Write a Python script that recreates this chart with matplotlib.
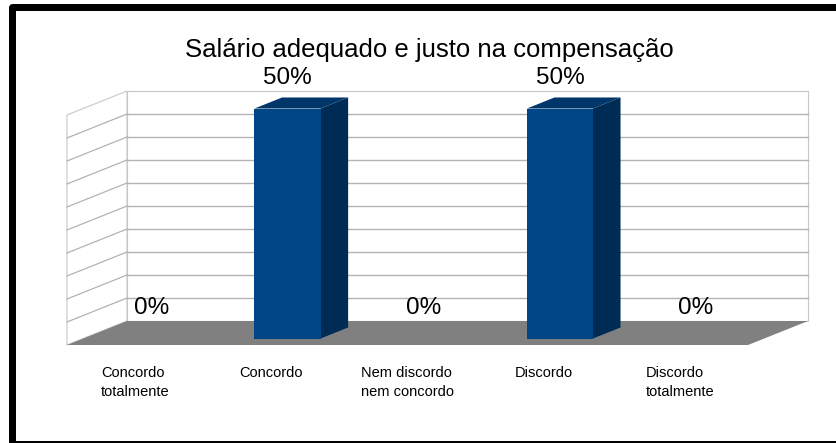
import matplotlib
matplotlib.use("Agg")
import matplotlib.pyplot as plt
from matplotlib.patches import Polygon, Rectangle
from matplotlib.transforms import Affine2D, IdentityTransform

# ---------------- data ----------------
categories = ["Concordo\ntotalmente", "Concordo", "Nem discordo\nnem concordo",
              "Discordo", "Discordo\ntotalmente"]
values = [0.0, 0.5, 0.0, 0.5, 0.0]
value_labels = ["0%", "50%", "0%", "50%", "0%"]
title = "Salário adequado e justo na compensação"
y_max = 0.5
y_step = 0.05

# ---------------- style / layout ----------------
plt.rcParams['font.family'] = ['Liberation Sans', 'DejaVu Sans']
W, H = 837, 443
fig = plt.figure(figsize=(W / 100, H / 100), dpi=100)
fig.patch.set_facecolor('white')
ax = fig.add_axes([127 / W, (H - 321) / H, 681 / W, 230 / H])
n = len(categories)
ax.set_xlim(-0.5, n - 0.5)
ax.set_ylim(0, y_max)
ax.axis('off')

DX, DY = -60.0, -24.0          # pixel shift at full depth (front)
D_BACK, D_FRONT = 0.27, 0.73   # bar depth range
BW = 0.485                     # bar width in category units

FRONT = '#004586'
SIDE = '#002b55'
TOP = '#00366a'
GRID = '#b3b3b3'
WALL_EDGE = '#c8c8c8'
FLOOR = '#808080'


def depth(d):
    return ax.transData + Affine2D().translate(DX * d, DY * d)


def proj(x, y, d):
    return depth(d).transform((x, y))


def poly(pts, fc, ec='none', lw=0, z=1):
    p = Polygon(pts, closed=True, facecolor=fc, edgecolor=ec, linewidth=lw,
                transform=IdentityTransform(), clip_on=False, zorder=z)
    ax.add_patch(p)
    return p


x0, x1 = -0.5, n - 0.5
grid_vals = [k * y_step for k in range(int(round(y_max / y_step)) + 1)]

# back wall
poly([proj(x0, 0, 0), proj(x1, 0, 0), proj(x1, y_max, 0), proj(x0, y_max, 0)],
     'white', WALL_EDGE, 0.8, z=0.5)
# left wall
poly([proj(x0, 0, 0), proj(x0, y_max, 0), proj(x0, y_max, 1), proj(x0, 0, 1)],
     'white', WALL_EDGE, 0.8, z=0.6)
for g in grid_vals[1:-1]:
    ax.plot([x0, x1], [g, g], color=GRID, lw=1.0, zorder=0.7, clip_on=False)
    a, b = proj(x0, g, 0), proj(x0, g, 1)
    ax.plot([a[0], b[0]], [a[1], b[1]], color=GRID, lw=0.9,
            transform=IdentityTransform(), zorder=0.7, clip_on=False)
# floor
poly([proj(x0, 0, 0), proj(x1, 0, 0), proj(x1, 0, 1), proj(x0, 0, 1)],
     FLOOR, z=1)

# bars
for i, v in enumerate(values):
    if v <= 0:
        continue
    l, r = i - BW / 2, i + BW / 2
    # side face
    poly([proj(r, 0, D_FRONT), proj(r, v, D_FRONT), proj(r, v, D_BACK), proj(r, 0, D_BACK)],
         SIDE, z=2)
    # top face
    poly([proj(l, v, D_FRONT), proj(r, v, D_FRONT), proj(r, v, D_BACK), proj(l, v, D_BACK)],
         TOP, z=2)
    # front face
    poly([proj(l, 0, D_FRONT), proj(r, 0, D_FRONT), proj(r, v, D_FRONT), proj(l, v, D_FRONT)],
         FRONT, z=3)

# data labels
for i, (v, lab) in enumerate(zip(values, value_labels)):
    ax.text(i, v, lab, transform=depth(D_FRONT) + Affine2D().translate(0, 31),
            ha='center', va='center', fontsize=17.5, color='black', zorder=5,
            clip_on=False)

# category labels
for i, cat in enumerate(categories):
    ax.text(i, 0, cat, transform=depth(1.0) + Affine2D().translate(0, -21),
            ha='center', va='top', multialignment='left', fontsize=10.5,
            linespacing=1.45, color='black', clip_on=False)

# title
fig.text(429 / W, 1 - 50 / H, title, ha='center', va='center', fontsize=18.5,
         color='black')

# outer frame
frame = Rectangle((11.5, -1.0), 845 - 11.5, (H - 6.5) + 1.0, facecolor='none',
                  edgecolor='black', linewidth=7 * 72 / 100, joinstyle='round',
                  transform=IdentityTransform(), clip_on=False)
fig.add_artist(frame)

fig.savefig('out.png', dpi=100)
